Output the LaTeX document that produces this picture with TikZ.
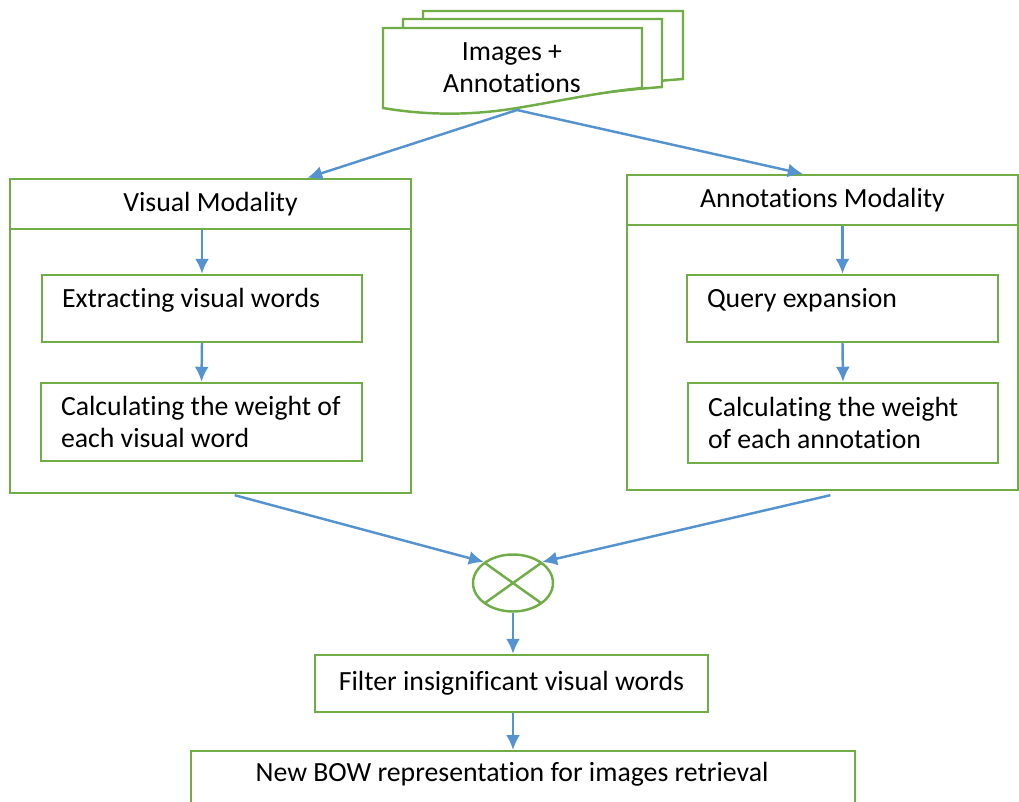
\documentclass[tikz,border=0pt]{standalone}
\usepackage{fontspec}
\setmainfont{Carlito}[Ligatures={NoCommon,NoRare}]
\usetikzlibrary{arrows.meta,calc,shapes.geometric,positioning}
\definecolor{boxgreen}{RGB}{112,173,71}
\definecolor{flowblue}{RGB}{84,146,208}
\tikzset{
	outbox/.style={draw=boxgreen,line width=1.4pt},
	inbox/.style={draw=boxgreen,line width=1.4pt,align=left,inner xsep=0.4cm,
		execute at begin node={\spaceskip=0pt\xspaceskip=0pt\relax}},
	flow/.style={draw=flowblue,line width=1.4pt,-{Latex[length=0.3cm,width=0.28cm]}}
}
\begin{document}
\begin{tikzpicture}[x=0.02cm,y=-0.02cm,font={\fontsize{15.8pt}{18pt}\selectfont}]
	\useasboundingbox (0,0) rectangle (1019,802);

	\filldraw[outbox,fill=white](423,11)--(683,11)--(683,79) .. controls (640,82) and (600,88) .. (560,92) .. controls (515,97) and (470,98) .. (423,92)--cycle;
	\filldraw[outbox,fill=white](403,19)--(662,19)--(662,87) .. controls (620,90) and (580,96) .. (540,100) .. controls (495,105) and (450,106) .. (403,100)--cycle;
	\filldraw[outbox,fill=white](383,28)--(642,28)--(642,88) .. controls (600,92) and (560,101) .. (517,108) .. controls (475,115) and (430,116) .. (383,108)--cycle;
	\node[align=center] (docs) at (512,68) {Images +\\Annotations};
	\coordinate (docbot) at (517,110);

	\node[outbox,minimum width=8.02cm,minimum height=6.28cm] (vis) at (210.5,336) {};
	\node[outbox,minimum width=8.02cm,minimum height=1cm,anchor=north] (vishead) at (vis.north) {Visual Modality};
	\node[inbox,text width=5.6cm,minimum height=1.34cm] (extr) at (202,308.5) {Extracting visual words\\[-5.5pt] \mbox{}};
	\node[inbox,text width=5.62cm,minimum height=1.56cm] (calcv) at (201.5,422) {\mbox{Calculating the weight of}\\each visual word};

	\node[outbox,minimum width=7.82cm,minimum height=6.3cm] (ann) at (822.5,332.5) {};
	\node[outbox,minimum width=7.82cm,minimum height=1cm,anchor=north] (annhead) at (ann.north) {Annotations Modality};
	\node[inbox,text width=5.42cm,minimum height=1.34cm] (query) at (842.5,308.5) {Query expansion\\[-5.5pt] \mbox{}};
	\node[inbox,text width=5.4cm,minimum height=1.6cm] (calca) at (843,423) {Calculating the weight\\of each annotation};

	\node[outbox,ellipse,minimum width=1.6cm,minimum height=1.14cm,path picture={
		\draw[boxgreen,line width=1.4pt] (path picture bounding box.north west)--(path picture bounding box.south east)
			(path picture bounding box.north east)--(path picture bounding box.south west);}] (mix) at (513,583) {};
	\node[outbox,minimum width=7.86cm,minimum height=1.14cm] (filt) at (511.5,683.5) {Filter insignificant visual words};
	\node[outbox,minimum width=13.28cm,minimum height=2cm,anchor=north] (bowbox) at (523,750) {};
	\node (bow) at (512,774) {New BOW representation for images retrieval};

	\draw[flow] (docbot)--($(vis.north west)!0.74!(vis.north east)$);
	\draw[flow] (docbot)--($(ann.north west)!0.45!(ann.north east)$);
	\draw[flow] (extr.north |- vishead.south)--(extr.north);
	\draw[flow] (extr.south)--(calcv.north);
	\draw[flow] (query.north |- annhead.south)--(query.north);
	\draw[flow] (query.south)--(calca.north);
	\draw[flow] ($(vis.south west)!0.56!(vis.south east)+(0,1)$)--(mix.north west);
	\draw[flow] ($(ann.south west)!0.52!(ann.south east)+(0,4)$)--(mix.north east);
	\draw[flow] (mix.south)--(mix.south |- filt.north);
	\draw[flow] (mix.south |- filt.south)--(mix.south |- bowbox.north);
\end{tikzpicture}
\end{document}
